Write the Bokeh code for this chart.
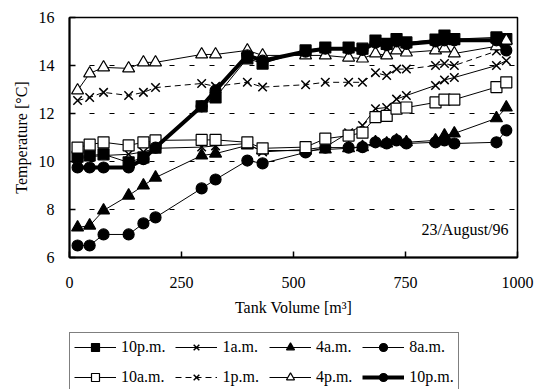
from bokeh.plotting import figure
from bokeh.layouts import column
from bokeh.models import Legend, LegendItem, Label, FixedTicker, Range1d
from bokeh.embed import file_html
from bokeh.resources import INLINE

# Tank volume positions [m3]
volume = [18, 45, 76, 132, 165, 192, 295, 326, 397, 431, 527, 571, 623, 654,
          683, 708, 730, 752, 817, 837, 859, 953, 975]

t_10pm_a = [10.2, 10.25, 10.3, 9.96, 10.17, 10.58, 12.3, 12.67, 14.3, 14.08, 14.63, 14.75,
            14.75, 14.7, 15.04, 14.9, 15.1, 14.96, 15.08, 15.25, 15.1, 15.17, 15.1]
t_1am = [10.1, 10.2, 10.25, 10.3, 10.4, 10.55, 10.6, 10.65, 10.75, 10.4, 10.5, 10.6,
         11.2, 11.5, 12.2, 12.25, 12.6, 12.75, 13.17, 13.4, 13.5, 14.0, 14.2]
t_4am = [7.25, 7.33, 7.96, 8.58, 9.0, 9.33, 10.25, 10.33, 10.67, 10.46, 10.45, 10.5,
         10.55, 10.6, 10.8, 10.75, 10.88, 10.8, 10.88, 11.08, 11.17, 11.8, 12.25]
t_8am = [6.5, 6.5, 6.96, 6.96, 7.42, 7.67, 8.88, 9.25, 10.04, 9.92, 10.38, 10.58,
         10.58, 10.6, 10.8, 10.75, 10.88, 10.75, 10.8, 10.88, 10.75, 10.8, 11.3]
t_10am = [10.58, 10.7, 10.8, 10.67, 10.8, 10.88, 10.9, 10.9, 10.8, 10.55, 10.6, 10.95,
          11.08, 11.2, 11.85, 11.9, 12.2, 12.25, 12.46, 12.58, 12.58, 13.1, 13.3]
t_1pm = [12.54, 12.67, 12.88, 12.75, 12.88, 13.08, 13.25, 13.13, 13.3, 13.1, 13.2, 13.3,
         13.3, 13.3, 13.7, 13.58, 13.85, 13.85, 14.0, 14.08, 14.0, 14.6, 14.8]
t_4pm = [12.96, 13.67, 13.92, 13.88, 14.13, 14.13, 14.46, 14.46, 14.63, 14.42, 14.42, 14.42,
         14.33, 14.29, 14.5, 14.42, 14.63, 14.54, 14.63, 14.71, 14.5, 14.8, 15.04]
t_10pm_b = [9.75, 9.75, 9.75, 9.75, 10.1, 10.58, 12.3, 12.96, 14.42, 14.2, 14.58, 14.7,
            14.7, 14.65, 14.95, 14.85, 15.0, 14.9, 15.0, 15.05, 15.05, 15.05, 14.63]

labels = ["10p.m.", "1a.m.", "4a.m.", "8a.m.", "10a.m.", "1p.m.", "4p.m.", "10p.m."]
x_ticks = [0, 250, 500, 750, 1000]
y_ticks = [6, 8, 10, 12, 14, 16]

FONT = "Liberation Serif"

p = figure(width=534, height=332, min_border_left=69, min_border_right=17,
           min_border_top=17, min_border_bottom=75,
           output_backend="svg", toolbar_location=None,
           x_range=Range1d(0, 1000), y_range=Range1d(6, 16))

p.background_fill_color = "white"
p.border_fill_color = "white"
p.outline_line_color = "black"
p.outline_line_width = 1.5

p.xgrid.visible = False
p.ygrid.ticker = FixedTicker(ticks=[8, 10, 12, 14])
p.ygrid.grid_line_color = "black"
p.ygrid.grid_line_dash = "5 15"
p.ygrid.grid_line_width = 1

for ax in (p.xaxis[0], p.yaxis[0]):
    ax.axis_line_width = 2
    ax.axis_line_color = "black"
    ax.major_tick_in = 6
    ax.major_tick_out = 0
    ax.major_tick_line_color = "black"
    ax.major_tick_line_width = 1.5
    ax.minor_tick_line_color = None
    ax.major_label_text_font = FONT
    ax.major_label_text_font_size = "16px"
    ax.major_label_text_color = "black"
    ax.axis_label_text_font = FONT
    ax.axis_label_text_font_size = "16px"
    ax.axis_label_text_font_style = "normal"
    ax.axis_label_text_color = "black"

p.xaxis.ticker = FixedTicker(ticks=x_ticks)
p.yaxis.ticker = FixedTicker(ticks=y_ticks)
p.xaxis.major_label_standoff = 19
p.xaxis.axis_label_standoff = 8
p.yaxis.major_label_standoff = 15
p.yaxis.axis_label_standoff = 6
p.xaxis.axis_label = "Tank Volume [m³]"
p.yaxis.axis_label = "Temperature [°C]"

series = [
    (t_10pm_a, "square", "black", 1, None),
    (t_1am, "x", "black", 1, None),
    (t_4am, "triangle", "black", 1, None),
    (t_8am, "circle", "black", 1, None),
    (t_10am, "square", "white", 1, None),
    (t_1pm, "x", "black", 1, "6 4"),
    (t_4pm, "triangle", "white", 1, None),
    (t_10pm_b, "circle", "black", 4, None),
]
sizes = {"square": 11, "x": 12, "triangle": 12, "circle": 11}

# legend-only strip below the chart (its ranges keep the data out of view)
lf = figure(width=534, height=58, min_border=0, min_border_left=0, min_border_right=0,
            min_border_top=0, min_border_bottom=0, x_axis_type=None, y_axis_type=None,
            output_backend="svg", toolbar_location=None,
            x_range=Range1d(0, 1), y_range=Range1d(0, 1))
lf.outline_line_color = None
lf.background_fill_color = "white"
lf.border_fill_color = "white"

items = []
for (vals, marker, fill, lw, dash), lab in zip(series, labels):
    kw = {}
    if dash:
        kw["line_dash"] = dash
    sw = 1.5 if marker == "x" else 1.2
    p.line(volume, vals, line_color="black", line_width=lw, **kw)
    p.scatter(volume, vals, marker=marker, size=sizes[marker], fill_color=fill,
              line_color="black", line_width=sw)
    ln = lf.line(volume, vals, line_color="black", line_width=lw, **kw)
    sc = lf.scatter(volume, vals, marker=marker, size=sizes[marker], fill_color=fill,
                    line_color="black", line_width=sw)
    items.append(LegendItem(label=lab, renderers=[ln, sc]))

legend = Legend(items=items, orientation="horizontal", ncols=4, location="top_left")
legend.label_text_font = FONT
legend.label_text_font_size = "16px"
legend.label_text_color = "black"
legend.glyph_width = 42
legend.glyph_height = 20
legend.label_height = 20
legend.label_standoff = 5
legend.spacing = 10
legend.padding = 4
legend.margin = 0
legend.border_line_color = "black"
legend.border_line_width = 1
legend.background_fill_color = "white"
legend.background_fill_alpha = 1
lf.add_layout(legend, "center")

p.add_layout(Label(x=980, y=7.17, text="23/August/96", text_align="right",
                   text_baseline="middle", text_font=FONT, text_font_size="16px",
                   text_color="black"))

layout = column(p, lf, spacing=0)
open("out.html", "w").write(file_html(layout, INLINE))
